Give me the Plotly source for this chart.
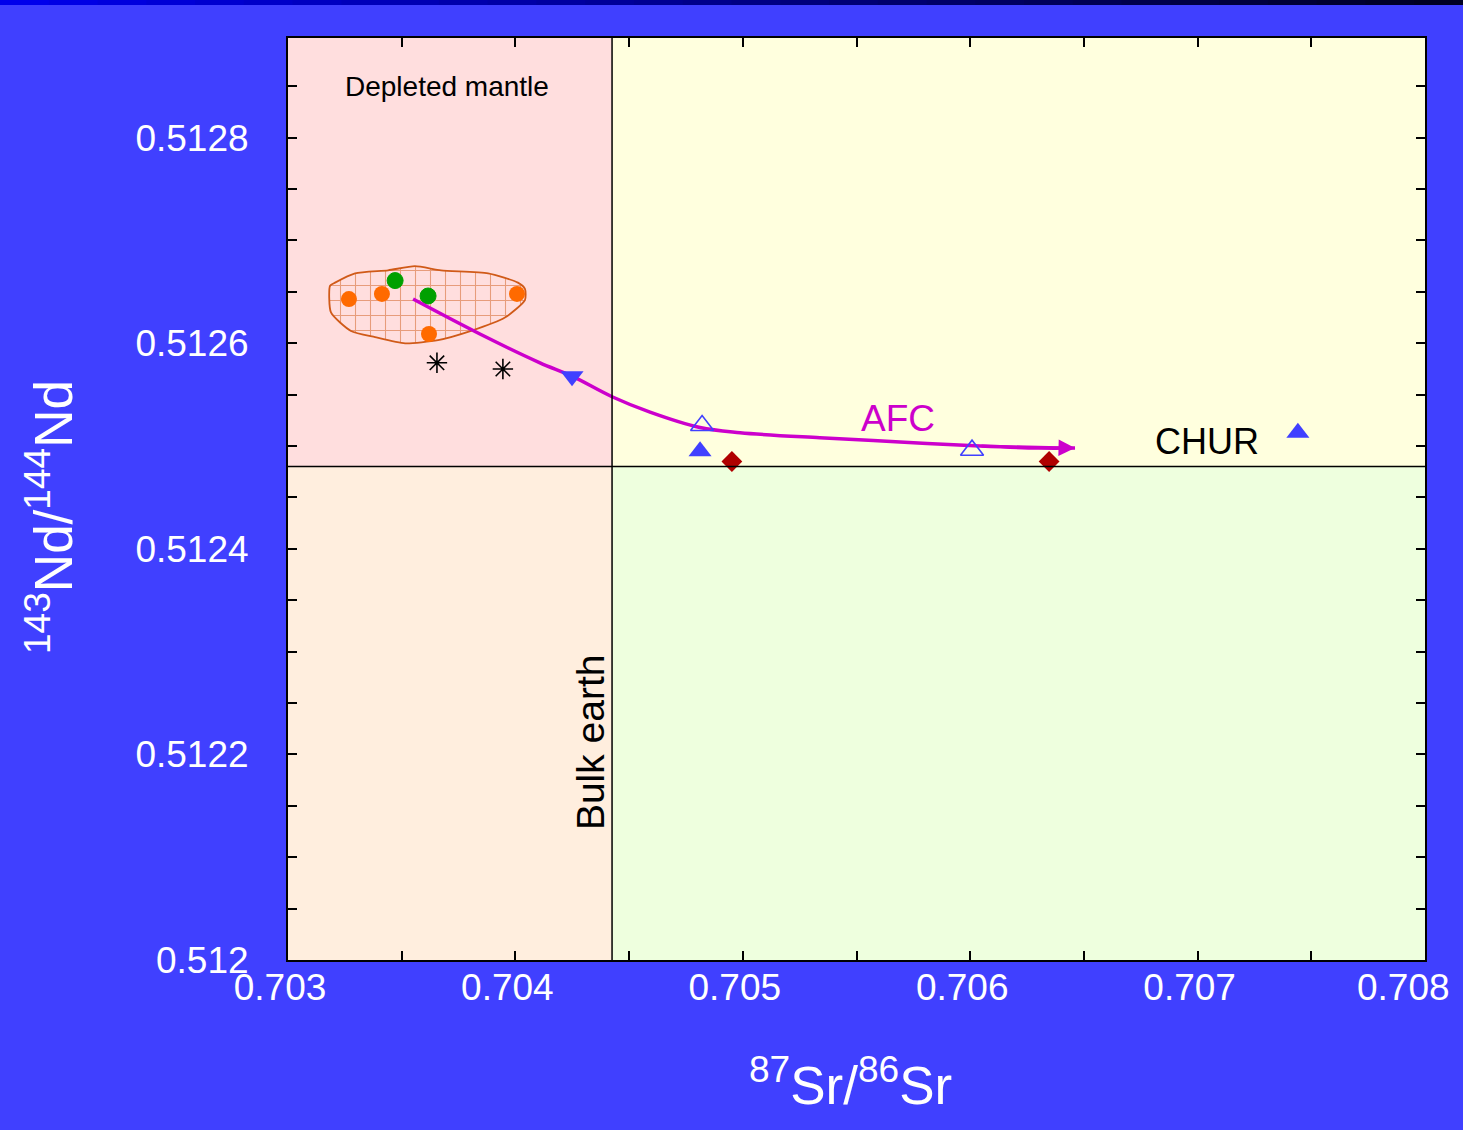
import plotly.graph_objects as go

# ---------------- data ----------------
orange_sr = [0.703268, 0.703413, 0.703620, 0.704007]
orange_nd = [0.512643, 0.512648, 0.512609, 0.512648]

green_sr = [0.703471, 0.703616]
green_nd = [0.512661, 0.512646]

star_sr = [0.703655, 0.703945]
star_nd = [0.512581, 0.512575]

down_sr = [0.704249]
down_nd = [0.512568]

open_tri_sr = [0.704821, 0.706008]
open_tri_nd = [0.512520, 0.512496]

fill_tri_sr = [0.704812, 0.707441]
fill_tri_nd = [0.512495, 0.512513]

diamond_sr = [0.704952, 0.706347]
diamond_nd = [0.512485, 0.512485]

field_sr = [0.703185, 0.703189, 0.703277, 0.703383, 0.703515, 0.703660, 0.703805,
            0.703954, 0.704042, 0.704042, 0.704011, 0.703880, 0.703673, 0.703558,
            0.703440, 0.703295, 0.703207, 0.703185]
field_nd = [0.512656, 0.512630, 0.512612, 0.512606, 0.512600, 0.512603, 0.512612,
            0.512625, 0.512642, 0.512653, 0.512659, 0.512668, 0.512671, 0.512675,
            0.512671, 0.512668, 0.512659, 0.512656]

afc_sr = [0.703550, 0.703844, 0.704108, 0.704249, 0.704425, 0.704592, 0.704812,
          0.704988, 0.705339, 0.705691, 0.706043, 0.706300, 0.706461]
afc_nd = [0.512643, 0.512609, 0.512581, 0.512568, 0.512548, 0.512533, 0.512518,
          0.512513, 0.512508, 0.512504, 0.512500, 0.512498, 0.512498]

bulk_earth_sr = 0.704425
chur_nd = 0.512480

x_ticks = [0.703, 0.704, 0.705, 0.706, 0.707, 0.708]
x_ticklabels = ["0.703", "0.704", "0.705", "0.706", "0.707", "0.708"]
y_ticks = [0.512, 0.5122, 0.5124, 0.5126, 0.5128]
y_ticklabels = ["0.512", "0.5122", "0.5124", "0.5126", "0.5128"]

x_range = [0.703, 0.708]
y_range = [0.512, 0.512897]

FONT = "Liberation Sans, Arial, sans-serif"
MAG = "#CC00CC"
BLUE = "#4040FF"

fig = go.Figure()

# field (hatched)
fig.add_trace(go.Scatter(
    x=field_sr, y=field_nd, mode="lines", fill="toself",
    line=dict(color="#D05A18", width=1.8, shape="spline", smoothing=0.6),
    fillcolor="rgba(0,0,0,0)",
    fillpattern=dict(shape="+", fgcolor="#D05A18", bgcolor="rgba(0,0,0,0)",
                     size=15, solidity=0.14),
    hoverinfo="skip", showlegend=False))

fig.add_trace(go.Scatter(x=orange_sr, y=orange_nd, mode="markers",
                         marker=dict(symbol="circle", size=16, color="#FF6A00"),
                         showlegend=False))
fig.add_trace(go.Scatter(x=green_sr, y=green_nd, mode="markers",
                         marker=dict(symbol="circle", size=16, color="#00A000",
                                     line=dict(color="#00A000", width=1)),
                         showlegend=False))
fig.add_trace(go.Scatter(x=star_sr, y=star_nd, mode="markers",
                         marker=dict(symbol="asterisk-open", size=17, color="black",
                                     line=dict(color="black", width=1.6)),
                         showlegend=False))

# AFC curve
fig.add_trace(go.Scatter(x=afc_sr, y=afc_nd, mode="lines",
                         line=dict(color=MAG, width=3.5, shape="spline"),
                         showlegend=False))

fig.add_trace(go.Scatter(x=down_sr, y=down_nd, mode="markers",
                         marker=dict(symbol="triangle-down", size=20, color=BLUE),
                         showlegend=False))
fig.add_trace(go.Scatter(x=open_tri_sr, y=open_tri_nd, mode="markers",
                         marker=dict(symbol="triangle-up-open", size=20, color=BLUE,
                                     line=dict(color=BLUE, width=1.6)),
                         showlegend=False))
fig.add_trace(go.Scatter(x=fill_tri_sr, y=fill_tri_nd, mode="markers",
                         marker=dict(symbol="triangle-up", size=20, color=BLUE),
                         showlegend=False))
fig.add_trace(go.Scatter(x=diamond_sr, y=diamond_nd, mode="markers",
                         marker=dict(symbol="diamond", size=16, color="#B00000"),
                         showlegend=False))

# quadrant backgrounds and reference lines
shapes = [
    dict(type="rect", xref="x", yref="y", x0=x_range[0], x1=bulk_earth_sr,
         y0=chur_nd, y1=y_range[1], fillcolor="#FFDEDE", line_width=0, layer="below"),
    dict(type="rect", xref="x", yref="y", x0=bulk_earth_sr, x1=x_range[1],
         y0=chur_nd, y1=y_range[1], fillcolor="#FFFFDE", line_width=0, layer="below"),
    dict(type="rect", xref="x", yref="y", x0=x_range[0], x1=bulk_earth_sr,
         y0=y_range[0], y1=chur_nd, fillcolor="#FFEEDE", line_width=0, layer="below"),
    dict(type="rect", xref="x", yref="y", x0=bulk_earth_sr, x1=x_range[1],
         y0=y_range[0], y1=chur_nd, fillcolor="#EEFFDE", line_width=0, layer="below"),
    dict(type="line", xref="x", yref="y", x0=bulk_earth_sr, x1=bulk_earth_sr,
         y0=y_range[0], y1=y_range[1], line=dict(color="black", width=1.5)),
    dict(type="line", xref="x", yref="y", x0=x_range[0], x1=x_range[1],
         y0=chur_nd, y1=chur_nd, line=dict(color="black", width=1.5)),
]

# top gradient bar (decorative)
n_seg = 30
for i in range(n_seg):
    t = i / (n_seg - 1)
    b = int(235 - 200 * t)
    shapes.append(dict(type="rect", xref="paper", yref="paper",
                       x0=-0.2533 + i * (1.2867 / n_seg),
                       x1=-0.2533 + (i + 1) * (1.2867 / n_seg) + 0.001,
                       y0=1.0358, y1=1.05, fillcolor=f"rgb(0,0,{b})",
                       line_width=0, layer="above"))

annotations = [
    dict(x=afc_sr[-1], y=afc_nd[-1], ax=afc_sr[-3], ay=afc_nd[-3],
         xref="x", yref="y", axref="x", ayref="y", text="", showarrow=True,
         arrowhead=2, arrowsize=1.1, arrowwidth=3, arrowcolor=MAG),
    dict(x=0.703699, y=0.512850, text="Depleted mantle", showarrow=False,
         font=dict(family=FONT, size=28, color="black")),
    dict(x=0.705682, y=0.512527, text="AFC", showarrow=False,
         font=dict(family=FONT, size=37, color=MAG)),
    dict(x=0.707041, y=0.512504, text="CHUR", showarrow=False,
         font=dict(family=FONT, size=36, color="black")),
    dict(x=0.704328, y=0.512212, text="Bulk earth", showarrow=False, textangle=-90,
         font=dict(family=FONT, size=39, color="black")),
    # last x tick label, pulled inward so it stays on the page
    dict(x=x_ticks[-1], xref="x", y=-0.0293, yref="paper", text=x_ticklabels[-1],
         showarrow=False, xshift=-22, yanchor="middle",
         font=dict(family=FONT, size=37, color="white")),
    # axis titles
    dict(xref="paper", yref="paper", x=0.4943, y=-0.1323, showarrow=False,
         text="<sup>87</sup>Sr/<sup>86</sup>Sr", yanchor="middle",
         font=dict(family=FONT, size=53, color="white")),
    dict(xref="paper", yref="paper", x=-0.2093, y=0.4805, showarrow=False,
         text="<sup>143</sup>Nd/<sup>144</sup>Nd", textangle=-90, xanchor="center",
         font=dict(family=FONT, size=53, color="white")),
]

fig.update_layout(
    width=1463, height=1130,
    margin=dict(l=288, r=38, t=38, b=170),
    paper_bgcolor=BLUE, plot_bgcolor="#FFFFDE",
    shapes=shapes, annotations=annotations,
    font=dict(family=FONT, color="white"),
    showlegend=False,
)

fig.update_xaxes(
    range=x_range, tickvals=x_ticks, ticktext=x_ticklabels[:-1] + [""],
    ticks="inside", ticklen=9, tickwidth=1.5, tickcolor="black",
    minor=dict(dtick=0.0005, tick0=0.703, ticks="inside", ticklen=9, tickwidth=1.5,
               tickcolor="black"),
    showline=True, linecolor="black", linewidth=2, mirror="allticks",
    showgrid=False, zeroline=False,
    tickfont=dict(family=FONT, size=37, color="white"),
    ticklabelstandoff=-6, ticklabelshift=-8,
)
fig.update_yaxes(
    range=y_range, tickvals=y_ticks, ticktext=y_ticklabels,
    ticks="inside", ticklen=9, tickwidth=1.5, tickcolor="black",
    minor=dict(dtick=0.00005, tick0=0.512, ticks="inside", ticklen=9,
               tickwidth=1.5, tickcolor="black"),
    showline=True, linecolor="black", linewidth=2, mirror="allticks",
    showgrid=False, zeroline=False,
    tickfont=dict(family=FONT, size=37, color="white"),
    ticklabelstandoff=30,
)

fig.write_html("out.html", config={"displayModeBar": False},
               post_script="document.body.style.margin='0';")
